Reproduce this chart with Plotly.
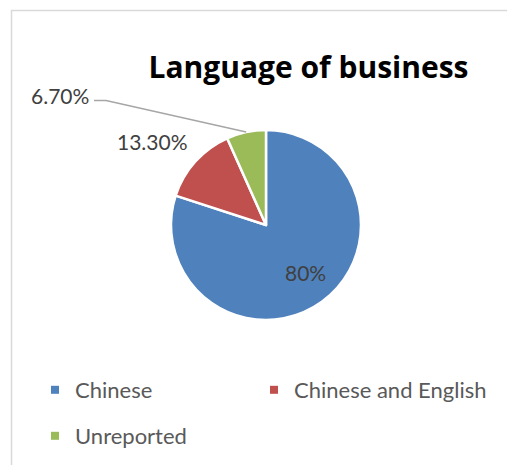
import math
import plotly.graph_objects as go

# Share of businesses by language of business
categories = ["Chinese", "Chinese and English", "Unreported"]
values = [80.0, 13.3, 6.7]
value_labels = ["80%", "13.30%", "6.70%"]
colors = ["#4F81BD", "#C0504D", "#9BBB59"]

W, H = 507, 465
FONT = "Lato"
LABEL_COLOR = "#404040"

# pie geometry in pixels
cx, cy, r = 266, 225, 95

fig = go.Figure()

fig.add_trace(go.Pie(
    labels=categories,
    values=values,
    textinfo="none",
    marker=dict(colors=colors, line=dict(color="white", width=2.5)),
    sort=False,
    direction="clockwise",
    rotation=0,
    showlegend=False,
    hoverinfo="label+percent",
    domain=dict(x=[(cx - r) / W, (cx + r) / W],
                y=[(H - cy - r) / H, (H - cy + r) / H]),
))

# legend entries (one legend per entry for a two-column layout)
legend_pos = [("legend", 35, 390), ("legend2", 254, 390), ("legend3", 35, 436)]
for name, col, (lg, _, _) in zip(categories, colors, legend_pos):
    fig.add_trace(go.Scatter(
        x=[None], y=[None], mode="markers", name=name,
        marker=dict(symbol="square", size=8, color=col),
        legend=lg, showlegend=True,
    ))

legend_layout = {}
for lg, lx, ly in legend_pos:
    legend_layout[lg] = dict(
        x=lx / W, xanchor="left",
        y=(H - ly) / H, yanchor="middle",
        font=dict(family=FONT, size=22, color="#595959"),
        bgcolor="rgba(0,0,0,0)", borderwidth=0,
        itemclick=False, itemdoubleclick=False,
    )

# slice mid angles (clockwise from 12 o'clock)
total = sum(values)
mid_angles = []
cum = 0.0
for v in values:
    mid_angles.append((cum + v / 2) / total * 2 * math.pi)
    cum += v


def pix_to_paper(px, py):
    return px / W, (H - py) / H


def on_pie(angle, frac):
    return cx + frac * r * math.sin(angle), cy - frac * r * math.cos(angle)


annotations = []
# inside label of the large slice
ix, iy = on_pie(mid_angles[0], 0.66)
px, py = pix_to_paper(ix + 3, iy - 3)
annotations.append(dict(x=px, y=py, xref="paper", yref="paper", text=value_labels[0],
                        showarrow=False, xanchor="center", yanchor="middle",
                        font=dict(family=FONT, size=21, color=LABEL_COLOR)))
# outside labels of the two small slices
for txt, (tx, ty) in zip(value_labels[1:], [(152, 141), (60, 96)]):
    px, py = pix_to_paper(tx, ty)
    annotations.append(dict(x=px, y=py, xref="paper", yref="paper", text=txt,
                            showarrow=False, xanchor="center", yanchor="middle",
                            font=dict(family=FONT, size=21, color=LABEL_COLOR)))

# leader line to the unreported slice
ex, ey = on_pie(mid_angles[2], 1.0)
p0 = pix_to_paper(94, 100.5)
p1 = pix_to_paper(106, 100.5)
p2 = pix_to_paper(ex, ey)
shapes = [
    dict(type="path", xref="paper", yref="paper",
         path=f"M{p0[0]},{p0[1]} L{p1[0]},{p1[1]} L{p2[0]},{p2[1]}",
         line=dict(color="#A6A6A6", width=1.5)),
    # chart area border
    dict(type="rect", xref="paper", yref="paper",
         x0=11.5 / W, x1=1.2, y0=-0.2, y1=(H - 10.5) / H,
         line=dict(color="#D9D9D9", width=1.5), layer="below"),
]

fig.update_layout(
    width=W, height=H,
    margin=dict(l=0, r=0, t=0, b=0),
    paper_bgcolor="white", plot_bgcolor="white",
    title=dict(text="<b>Language of business</b>",
               x=308.5 / W, xanchor="center", y=(H - 67) / H, yanchor="middle",
               font=dict(family="Open Sans", size=30, color="#000000")),
    xaxis=dict(visible=False), yaxis=dict(visible=False),
    annotations=annotations,
    shapes=shapes,
    **legend_layout,
)

fig.write_html("out.html")
